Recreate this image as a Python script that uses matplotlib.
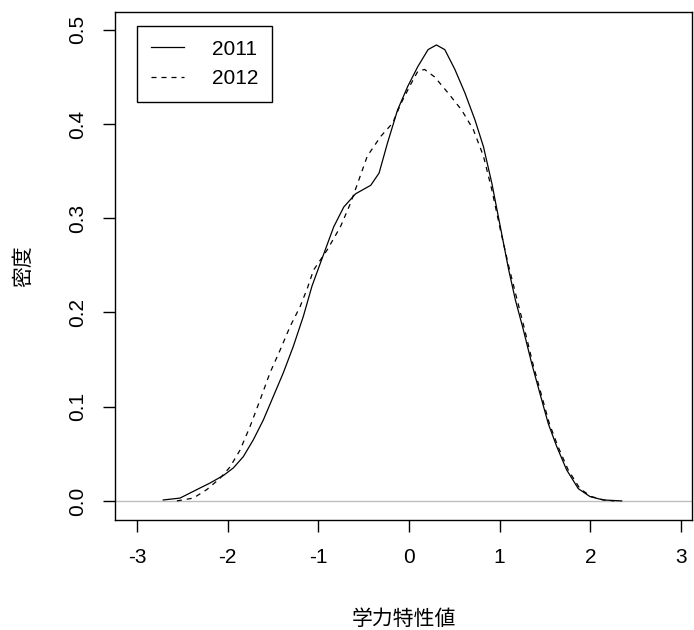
import matplotlib.pyplot as plt

plt.rcParams['font.family'] = ['Liberation Sans', 'Noto Sans CJK JP', 'DejaVu Sans']

# 学力特性値の密度推定（2011年）
x_2011 = [-2.71, -2.525, -2.34, -2.194, -2.047, -1.937, -1.827, -1.716, -1.606, -1.496,
          -1.386, -1.276, -1.165, -1.07, -0.979, -0.83, -0.719, -0.589, -0.422, -0.33,
          -0.237, -0.126, -0.014, 0.097, 0.21, 0.302, 0.395, 0.506, 0.617, 0.729,
          0.821, 0.914, 1.007, 1.10, 1.174, 1.26, 1.353, 1.444, 1.536, 1.628,
          1.738, 1.867, 1.996, 2.142, 2.345]
d_2011 = [0.001, 0.003, 0.012, 0.019, 0.027, 0.035, 0.047, 0.065, 0.086, 0.111,
          0.136, 0.164, 0.196, 0.228, 0.252, 0.291, 0.312, 0.326, 0.335, 0.348,
          0.380, 0.415, 0.440, 0.461, 0.479, 0.484, 0.479, 0.458, 0.433, 0.404,
          0.376, 0.337, 0.291, 0.245, 0.213, 0.182, 0.146, 0.114, 0.082, 0.058,
          0.033, 0.013, 0.0046, 0.001, 0.0]

# 学力特性値の密度推定（2012年）
x_2012 = [-2.56, -2.378, -2.23, -2.084, -1.974, -1.863, -1.753, -1.643, -1.533, -1.422,
          -1.312, -1.202, -1.12, -1.053, -0.905, -0.756, -0.645, -0.552, -0.46, -0.311,
          -0.181, -0.088, 0.023, 0.097, 0.172, 0.283, 0.431, 0.58, 0.71, 0.821,
          0.914, 1.007, 1.10, 1.17, 1.27, 1.365, 1.456, 1.548, 1.642, 1.755,
          1.885, 2.01, 2.15, 2.26]
d_2012 = [0.0, 0.003, 0.012, 0.024, 0.036, 0.054, 0.079, 0.107, 0.136, 0.160,
          0.185, 0.206, 0.226, 0.245, 0.266, 0.291, 0.316, 0.341, 0.366, 0.387,
          0.401, 0.422, 0.443, 0.456, 0.458, 0.450, 0.433, 0.415, 0.394, 0.366,
          0.330, 0.288, 0.249, 0.222, 0.184, 0.146, 0.114, 0.082, 0.058, 0.033,
          0.013, 0.0046, 0.001, 0.0]

x_ticks = [-3, -2, -1, 0, 1, 2, 3]
y_ticks = [0.0, 0.1, 0.2, 0.3, 0.4, 0.5]

fig = plt.figure(figsize=(6.94, 6.30), dpi=100)
ax = fig.add_axes([0.166, 0.175, 0.831, 0.806])

ax.axhline(0, color='#bebebe', lw=1.0, zorder=1)
ax.plot(x_2011, d_2011, color='black', lw=0.9, label='2011', zorder=3)
ax.plot(x_2012, d_2012, color='black', lw=0.9, linestyle=(0, (4, 4)),
        label='2012', zorder=2)

ax.set_xlim(-3.24, 3.12)
ax.set_ylim(-0.02, 0.519)
ax.set_xticks(x_ticks)
ax.set_xticklabels([str(v) for v in x_ticks])
ax.set_yticks(y_ticks)
ax.set_yticklabels([f'{v:.1f}' for v in y_ticks], rotation=90, va='center')
ax.tick_params(direction='out', length=8.5, width=1, labelsize=15, pad=12)
for s in ax.spines.values():
    s.set_linewidth(1)

ax.set_xlabel('学力特性値', fontsize=15, labelpad=30)
ax.set_ylabel('密度', fontsize=15, labelpad=25)

leg = ax.legend(loc='upper left', bbox_to_anchor=(0.038, 0.972), fontsize=15,
                frameon=True, fancybox=False, edgecolor='black', framealpha=1,
                handlelength=1.6, handletextpad=1.35, borderpad=0.65,
                labelspacing=0.5, borderaxespad=0)
leg.get_frame().set_linewidth(1)

fig.savefig('out.png', dpi=100)
